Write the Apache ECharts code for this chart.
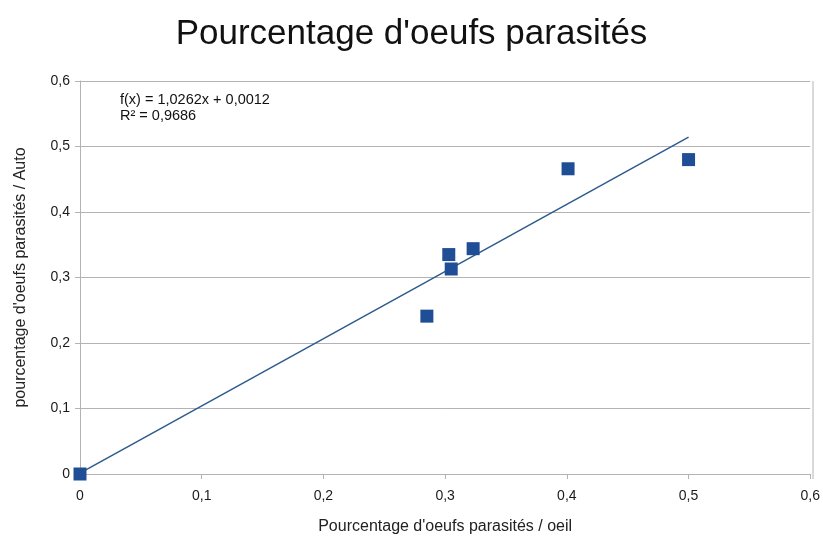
<!DOCTYPE html>
<html><head><meta charset="utf-8">
<script src="https://cdn.jsdelivr.net/npm/echarts@6/dist/echarts.min.js"></script>
<style>html,body{margin:0;padding:0;background:#fff}#c{width:823px;height:540px}</style>
</head><body><div id="c"></div>
<script>
var titleText = "Pourcentage d'oeufs parasités";
var xName = "Pourcentage d'oeufs parasités / oeil";
var yName = "pourcentage d'oeufs parasités / Auto";
var xOeil = [0, 0.285, 0.303, 0.305, 0.323, 0.401, 0.500];
var yAuto = [0, 0.241, 0.335, 0.313, 0.344, 0.466, 0.480];
var slope = 1.0262, intercept = 0.0012;
var trendX = [0, 0.5];
var eqLines = ["f(x) = 1,0262x + 0,0012", "R² = 0,9686"];

var pts = xOeil.map(function(x,i){return [x, yAuto[i]];});
var trend = trendX.map(function(x){return [x, slope*x+intercept];});
var fmt = function(v){return String(+v.toFixed(1)).replace('.', ',');};

var chart = echarts.init(document.getElementById('c'));
chart.setOption({
  animation:false,
  title:{text:titleText,left:'center',top:12,textStyle:{fontFamily:'Liberation Sans',fontSize:35,fontWeight:'normal',color:'#111'}},
  grid:{left:80,right:10,top:81,bottom:61},
  xAxis:{type:'value',min:0,max:0.6,interval:0.1,
    name:xName,nameLocation:'middle',nameGap:45,
    nameTextStyle:{fontFamily:'Liberation Sans',fontSize:16,color:'#222'},
    axisLine:{show:true,lineStyle:{color:'#b3b3b3'}},
    axisTick:{show:true,length:5,lineStyle:{color:'#b3b3b3'}},
    axisLabel:{formatter:fmt,fontFamily:'Liberation Sans',fontSize:14,color:'#1a1a1a',margin:15},
    splitLine:{show:false}},
  yAxis:{type:'value',min:0,max:0.6,interval:0.1,
    name:yName,nameLocation:'middle',nameGap:51,
    nameTextStyle:{fontFamily:'Liberation Sans',fontSize:16,color:'#222'},
    axisLine:{show:true,lineStyle:{color:'#b3b3b3'}},
    axisTick:{show:true,length:5,lineStyle:{color:'#b3b3b3'}},
    axisLabel:{formatter:fmt,fontFamily:'Liberation Sans',fontSize:14,color:'#1a1a1a',margin:10},
    splitLine:{show:true,lineStyle:{color:'#b3b3b3',width:1}}},
  graphic:[
    {type:'line',shape:{x1:813,y1:81,x2:813,y2:479},style:{stroke:'#b3b3b3',lineWidth:1}},
    {type:'text',left:120,top:92,style:{text:eqLines.join('\n'),font:'14.5px Liberation Sans',fill:'#111',lineHeight:16}}
  ],
  series:[
    {type:'line',data:trend,symbol:'none',lineStyle:{color:'#2d5b8e',width:1.5},z:2},
    {type:'scatter',data:pts,symbol:'rect',symbolSize:13,itemStyle:{color:'#1f4e96',opacity:1},z:3}
  ]
});
</script></body></html>
